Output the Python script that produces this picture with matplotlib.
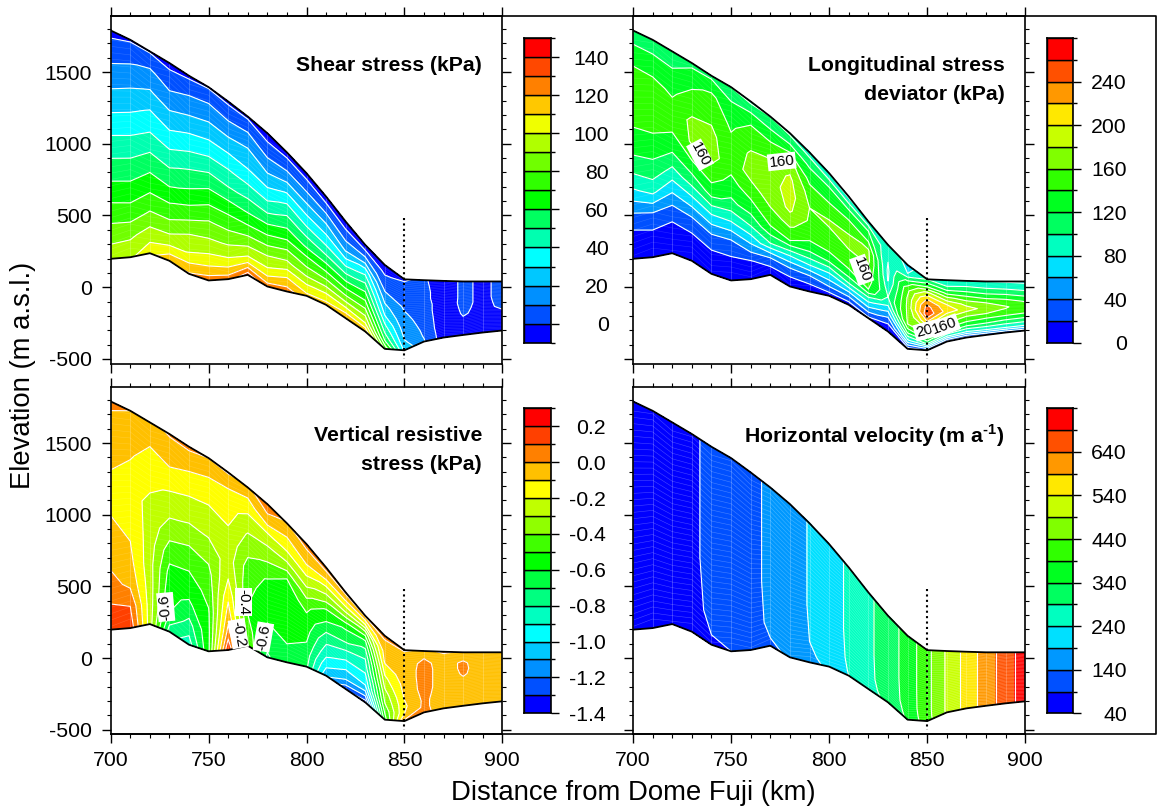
import numpy as np
import matplotlib
matplotlib.use('Agg')
import matplotlib.pyplot as plt
from matplotlib.colors import ListedColormap, BoundaryNorm
from matplotlib.lines import Line2D
from matplotlib.ticker import MultipleLocator

plt.rcParams['font.family'] = ['Liberation Sans', 'DejaVu Sans']
plt.rcParams['axes.unicode_minus'] = False
plt.rcParams['mathtext.fontset'] = 'custom'
plt.rcParams['mathtext.rm'] = 'Liberation Sans'
plt.rcParams['mathtext.bf'] = 'Liberation Sans:bold'

W, H = 1157, 808

# Stations along the flow line (km) and the ice surface / bed (m a.s.l.)
stations = [700, 710, 720, 730, 740, 750, 760, 770, 780, 790, 800,
            810, 820, 830, 840, 850, 860, 870, 880, 890, 900]
surface = [1790, 1725, 1644, 1563, 1474, 1395, 1295, 1190, 1074, 940, 795,
           632, 458, 295, 155, 55, 49, 44, 40, 40, 40]
bed = [198, 209, 237, 184, 93, 47, 56, 86, 5, -30, -60,
       -123, -216, -309, -430, -440, -379, -351, -333, -316, -302]

# Depth fraction (0 = surface, 1 = bed) of the value columns below
depth_fine = [0, .1, .2, .3, .4, .5, .6, .7, .8, .9, 1]
depth_vel = [0, .6, .85, .95, 1]

shear = [
    [-3, 6, 15, 24, 34, 44, 54, 64, 75, 86, 97],
    [-1, 9, 18, 27, 36, 46, 55, 65, 75, 88, 98],
    [-1, 12, 21, 31, 40, 50, 60, 70, 81, 94, 107],
    [-3, 6, 16, 26, 36, 47, 57, 69, 81, 95, 118],
    [-2, 10, 20, 31, 42, 53, 63, 76, 90, 101, 121],
    [-1, 12, 22, 33, 45, 57, 69, 81, 92, 105, 125],
    [-2, 9, 20, 31, 42, 52, 66, 77, 89, 103, 125],
    [-2, 10, 20, 27, 37, 48, 59, 72, 87, 103, 135],
    [-5, 4, 14, 24, 35, 47, 61, 75, 90, 103, 125],
    [-4, 6, 18, 31, 44, 55, 66, 80, 93, 110, 125],
    [-5, 5, 15, 26, 36, 48, 59, 73, 84, 99, 113],
    [-6, 4, 15, 25, 35, 45, 58, 71, 85, 101, 114],
    [-8, 2, 10, 19, 32, 45, 58, 71, 85, 102, 120],
    [-8, 5, 18, 35, 46, 56, 66, 76, 88, 100, 118],
    [-6, -1, 4, 9, 16, 23, 30, 40, 49, 60, 78],
    [-1, 2, 4, 7, 9, 11, 13, 15, 18, 22, 28],
    [2, 3, 4, 4, 5, 5, 6, 7, 8, 9, 11],
    [-8, -8, -8, -8, -7, -7, -7, -7, -7, -6, -6],
    [3, 3, 3, 3, 3, 2, 1, -1, -4, -4, -4],
    [-3, -3, -3, -3, -3, -3, -3, -3, -3, -3, -3],
    [4, 4, 4, 4, 3, 2, -1, -2, -3, -3, -3],
]

longitudinal = [
    [105, 130, 148, 153, 143, 130, 108, 78, 40, 13, 2],
    [105, 128, 145, 152, 145, 128, 112, 84, 38, 14, 3],
    [100, 124, 137, 148, 140, 120, 92, 60, 28, 10, 2],
    [115, 135, 150, 164, 163, 138, 108, 70, 32, 12, 2],
    [115, 144, 155, 165, 168, 150, 125, 80, 40, 15, 2],
    [100, 127, 137, 146, 148, 133, 115, 78, 36, 15, 2],
    [95, 135, 150, 163, 168, 150, 130, 100, 60, 18, 2],
    [100, 125, 150, 165, 172, 170, 156, 138, 100, 35, 3],
    [95, 130, 170, 184, 188, 183, 163, 140, 80, 30, 3],
    [90, 118, 135, 152, 160, 157, 148, 125, 85, 33, 5],
    [80, 118, 132, 151, 162, 157, 147, 130, 85, 50, 8],
    [75, 115, 137, 154, 166, 159, 150, 135, 100, 50, 8],
    [85, 120, 138, 163, 165, 155, 148, 140, 92, 55, 15],
    [100, 88, 80, 76, 78, 90, 100, 80, 50, 22, 5],
    [70, 80, 125, 155, 163, 165, 163, 161, 125, 75, 10],
    [100, 137, 190, 225, 248, 255, 218, 182, 155, 105, 20],
    [85, 100, 130, 168, 200, 212, 182, 160, 135, 90, 15],
    [82, 100, 122, 147, 172, 190, 165, 145, 118, 78, 15],
    [80, 95, 113, 135, 160, 172, 160, 137, 115, 80, 20],
    [78, 92, 108, 130, 150, 162, 155, 132, 108, 80, 22],
    [75, 88, 102, 120, 138, 150, 148, 128, 105, 78, 25],
]

vertical = [
    [.02, -.03, -.07, -.10, -.14, -.10, -.06, -.02, .03, .11, .19],
    [0, -.05, -.09, -.13, -.17, -.13, -.10, -.07, -.02, .10, .17],
    [-.03, -.09, -.14, -.18, -.22, -.24, -.25, -.26, -.25, -.25, -.25],
    [.01, -.06, -.12, -.21, -.28, -.36, -.46, -.53, -.57, -.60, -.75],
    [.02, -.08, -.16, -.24, -.31, -.40, -.48, -.55, -.62, -.74, -.85],
    [0, -.10, -.17, -.24, -.29, -.37, -.43, -.47, -.51, -.52, -.52],
    [.01, -.11, -.17, -.20, -.24, -.25, -.20, -.12, -.05, .04, .20],
    [-.02, -.14, -.23, -.31, -.37, -.44, -.47, -.49, -.50, -.45, -.40],
    [.05, -.03, -.22, -.33, -.42, -.51, -.54, -.57, -.61, -.66, -.72],
    [-.01, -.10, -.20, -.33, -.50, -.54, -.55, -.56, -.58, -.61, -.60],
    [.03, -.04, -.13, -.25, -.35, -.47, -.52, -.56, -.60, -.65, -.68],
    [.04, -.08, -.24, -.37, -.52, -.60, -.70, -.79, -.87, -.97, -1.08],
    [.03, -.12, -.29, -.48, -.62, -.68, -.80, -.90, -1.00, -1.10, -1.27],
    [.02, -.20, -.45, -.62, -.72, -.80, -.85, -.93, -1.00, -1.15, -1.35],
    [.02, -.02, -.06, -.08, -.15, -.22, -.28, -.35, -.40, -.48, -.55],
    [.02, -.07, -.06, -.06, -.06, -.07, -.08, -.10, -.12, -.10, .02],
    [-.03, -.01, .03, .04, .04, .04, .04, .03, .02, .02, .03],
    [.02, -.04, -.05, -.05, -.05, -.05, -.05, -.05, -.05, -.05, -.05],
    [-.02, -.03, .02, .02, .01, -.01, -.03, -.05, -.05, -.05, -.05],
    [-.02, -.06, -.07, -.05, -.04, -.04, -.04, -.04, -.04, -.04, -.04],
    [-.02, -.03, -.05, -.06, -.06, -.06, -.06, -.06, -.06, -.06, -.06],
]

velocity = [
    [48, 48, 47, 45, 43],
    [58, 58, 57, 54, 50],
    [68, 68, 67, 62, 58],
    [83, 83, 81, 75, 70],
    [100, 100, 96, 90, 80],
    [115, 115, 112, 100, 90],
    [130, 130, 127, 115, 105],
    [148, 148, 146, 140, 130],
    [170, 170, 165, 155, 148],
    [193, 193, 190, 182, 175],
    [218, 218, 214, 205, 200],
    [248, 248, 246, 243, 240],
    [280, 280, 279, 277, 275],
    [315, 315, 312, 305, 300],
    [360, 360, 358, 352, 348],
    [425, 425, 425, 423, 420],
    [497, 497, 497, 497, 497],
    [560, 560, 560, 560, 560],
    [615, 615, 615, 615, 615],
    [665, 665, 665, 665, 665],
    [720, 720, 720, 720, 720],
]

shear_levels = list(range(-10, 160, 10))
long_levels = list(range(0, 300, 20))
vert_levels = [-1.4, -1.3, -1.2, -1.1, -1.0, -.9, -.8, -.7, -.6, -.5, -.4, -.3, -.2, -.1, 0, .1, .2, .3]
vel_levels = list(range(40, 790, 50))

shear_colors = ['#0000ff', '#0050ff', '#0090ff', '#00c8ff', '#00ffff', '#00ffb0', '#00ff60', '#00ff00',
                '#30ff00', '#70ff00', '#b0ff00', '#f0ff00', '#ffc800', '#ff8000', '#ff4800', '#ff0000']
long_colors = ['#0000ff', '#0050ff', '#0098ff', '#00e0ff', '#00ffc0', '#00ff60', '#00ff20',
               '#30ff00', '#80ff00', '#c8ff00', '#ffe800', '#ff9800', '#ff5000', '#ff0000']
vel_colors = long_colors
vert_colors = ['#0000ff', '#0050ff', '#0090ff', '#00c8ff', '#00ffff', '#00ffc0', '#00ff80', '#00ff40', '#00ff00',
               '#40ff00', '#90ff00', '#c0ff00', '#ffff00', '#ffc000', '#ff8000', '#ff4000', '#ff0000']


def box(left, top, right, bottom):
    return [left / W, 1 - bottom / H, (right - left) / W, (bottom - top) / H]


def draw_panel(pos, depth, values, levels, colors, title_lines, title_right, title_y, labels,
               show_x, show_y, mesh_alpha=0.16):
    ax = fig.add_axes(box(*pos))
    x = np.array(stations, dtype=float)
    top = np.array(surface, dtype=float)
    low = np.array(bed, dtype=float)
    depth = np.array(depth, dtype=float)
    X = np.repeat(x[:, None], len(depth), axis=1)
    Y = top[:, None] - depth[None, :] * (top - low)[:, None]
    cmap = ListedColormap(colors)
    cmap.set_over(colors[-1])
    cmap.set_under(colors[0])
    norm = BoundaryNorm(levels, len(colors))
    ax.contourf(X, Y, values, levels=levels, cmap=cmap, norm=norm, extend='both')

    # faint triangular model mesh
    n_mesh = 36
    shift = np.where(np.arange(len(x)) % 2 == 0, 0.5, -0.5) / n_mesh
    for s in np.linspace(0, 1, n_mesh + 1)[1:-1]:
        ax.plot(x, top - (s + shift) * (top - low), color='w', lw=0.4, alpha=mesh_alpha)
    for i in range(len(x)):
        ax.plot([x[i], x[i]], [top[i], low[i]], color='w', lw=0.5, alpha=0.3)

    ax.contour(X, Y, values, levels=levels, colors='w', linewidths=0.8, negative_linestyles='solid')
    ax.plot(x, top, color='k', lw=1.3)
    ax.plot(x, low, color='k', lw=1.3)
    ax.plot([850, 850], [480, -500], color='k', lw=1.5, ls=(0, (1, 1.6)), clip_on=False)

    ax.set_xlim(700, 900)
    ax.set_ylim(-532, 1893)
    ax.xaxis.set_major_locator(MultipleLocator(50))
    ax.xaxis.set_minor_locator(MultipleLocator(10))
    ax.yaxis.set_major_locator(MultipleLocator(500))
    ax.yaxis.set_minor_locator(MultipleLocator(100))
    ax.tick_params(which='major', direction='out', length=6.2, width=1.0, top=True, right=True,
                   labelbottom=show_x, labelleft=show_y, labelsize=15.3)
    ax.tick_params(which='minor', direction='out', length=3, width=0.8, top=True, right=True)
    ax.tick_params(axis='y', which='major', pad=7.3)
    ax.tick_params(axis='x', which='major', pad=6)
    for sp in ax.spines.values():
        sp.set_linewidth(1.2)

    for (lx, ly, txt, rot) in labels:
        ax.text(lx, ly, txt, fontsize=11, rotation=rot, ha='center', va='center', rotation_mode='anchor',
                bbox=dict(facecolor='w', edgecolor='none', pad=1.0), zorder=6)
    for i, line in enumerate(title_lines):
        fig.text(title_right / W, 1 - (title_y + i * 29) / H, line, fontsize=15.3, fontweight='bold',
                 ha='right', va='center')
    return ax


def draw_colorbar(pos, levels, colors, ticks, fmt, right_edge):
    cax = fig.add_axes(box(*pos))
    steps = np.diff(levels)
    cax.bar([0] * len(colors), steps, bottom=levels[:-1], width=1, color=colors, edgecolor='k', linewidth=1.0)
    cax.set_xlim(-.5, .5)
    cax.set_ylim(levels[0], levels[-1])
    cax.set_xticks([])
    cax.yaxis.tick_right()
    cax.set_yticks(ticks)
    cax.set_yticks(levels, minor=True)
    cax.set_yticklabels([fmt.format(t) for t in ticks])
    pad = (right_edge - pos[2] - 6 * 100 / 72) * 72 / 100
    cax.tick_params(which='major', length=6, width=1.0, labelsize=15.3, pad=pad)
    cax.tick_params(which='minor', length=3, width=1.0)
    for t in cax.get_yticklabels():
        t.set_ha('right')
    for sp in cax.spines.values():
        sp.set_linewidth(1.2)
    return cax


fig = plt.figure(figsize=(W / 100, H / 100), dpi=100)

draw_panel((110.7, 15.7, 502.3, 363.5), depth_fine, shear, shear_levels, shear_colors,
           ['Shear stress (kPa)'], 482, 65.7, [], False, True)
draw_panel((633, 15.7, 1025.3, 363.5), depth_fine, longitudinal, long_levels, long_colors,
           ['Longitudinal stress', 'deviator (kPa)'], 1005, 65.7,
           [(734.2, 923, '160', -62), (775.8, 877, '160', 6), (816.6, 121, '160', -70),
            (850.5, -298, '200', 15), (859, -270, '160', 20)], False, False)
draw_panel((110.7, 386.7, 502.3, 734.3), depth_fine, vertical, vert_levels, vert_colors,
           ['Vertical resistive', 'stress (kPa)'], 482, 435.7,
           [(728.1, 356, '-0.6', 95), (767.8, 391, '-0.4', -90), (765.2, 170, '-0.2', -80),
            (778, 147, '-0.6', 80)], True, True)
draw_panel((633, 386.7, 1025.3, 734.3), depth_vel, velocity, vel_levels, vel_colors,
           ['Horizontal velocity (m a$^{\\mathbf{\u20101}}$)'], 1005, 435.7, [], True, False, mesh_alpha=0.28)

draw_colorbar((524.3, 38, 550.7, 342.7), shear_levels, shear_colors, list(range(0, 160, 20)), '{:d}', 609)
draw_colorbar((1047.3, 38, 1073.3, 342.7), long_levels, long_colors, list(range(0, 280, 40)), '{:d}', 1127)
draw_colorbar((524.3, 408.3, 550.7, 713.3), vert_levels, vert_colors,
              [-1.4, -1.2, -1.0, -.8, -.6, -.4, -.2, 0, .2], '{:.1f}', 606)
draw_colorbar((1047.3, 408.3, 1073.3, 713.3), vel_levels, vel_colors, list(range(40, 740, 100)), '{:d}', 1127)

# outer frame around the whole figure block
frame_x = [110.7 / W, 1156 / W, 1156 / W, 110.7 / W]
frame_y = [1 - 15.7 / H, 1 - 15.7 / H, 1 - 734.3 / H, 1 - 734.3 / H]
fig.add_artist(Line2D(frame_x, frame_y, color='k', lw=1.2))

fig.text(633 / W, 1 - 793 / H, 'Distance from Dome Fuji (km)', fontsize=19.8, ha='center', va='center')
fig.text(23 / W, 1 - 375 / H, 'Elevation (m a.s.l.)', fontsize=19.8, rotation=90, ha='center', va='center')

fig.savefig('out.png', dpi=100)
